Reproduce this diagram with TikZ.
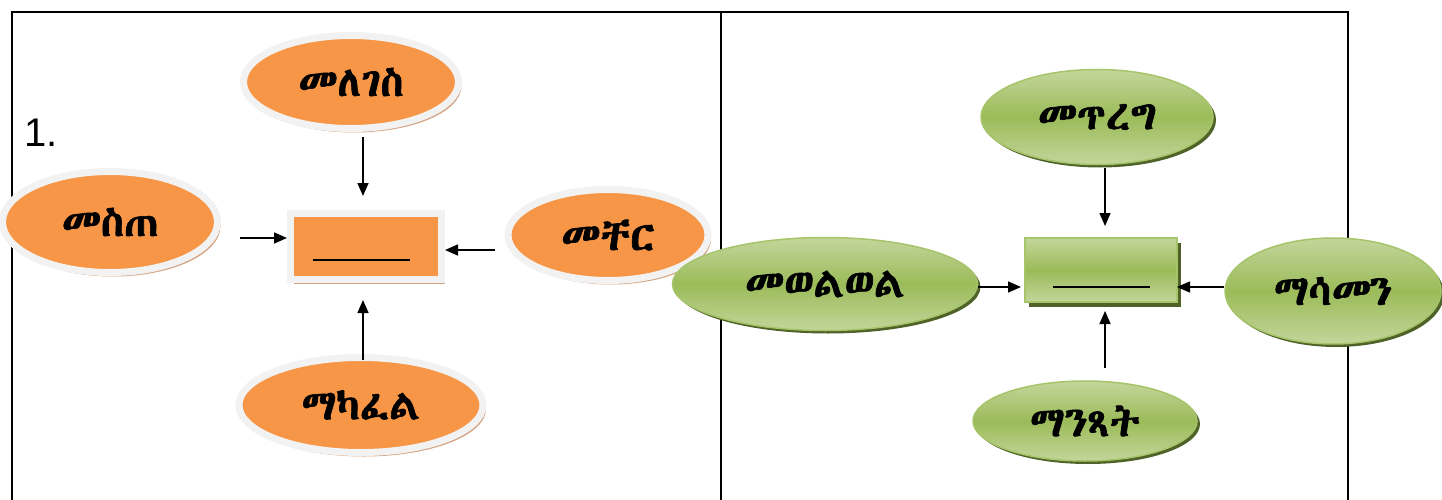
\documentclass[tikz,border=0pt]{standalone}
\usepackage{fontspec}
\setmainfont{Liberation Sans}
\IfFontExistsTF{Abyssinica SIL}{\newfontfamily\ethfont[Script=Ethiopic,FakeBold=1.5]{Abyssinica SIL}}{%
  \IfFontExistsTF{FreeSerif}{\newfontfamily\ethfont[Script=Ethiopic,FakeBold=1.5]{FreeSerif}}{%
   \newfontfamily\ethfont{DejaVu Sans}}}
\usetikzlibrary{shapes.geometric,arrows.meta,shadows}
\definecolor{orfill}{HTML}{F79646}
\definecolor{orrim}{HTML}{F2F2F2}
\definecolor{orshad}{HTML}{D4A482}
\definecolor{grlight}{HTML}{C3D69B}
\definecolor{grmid}{HTML}{9BBB59}
\definecolor{grline}{HTML}{A6C46A}
\definecolor{grshad}{HTML}{4F6228}
\tikzset{
  ethtext/.style={font=\ethfont\fontsize{42}{48}\selectfont, text=black},
  orell/.style={ellipse, inner sep=0pt, fill=orfill, draw=orrim, line width=7pt,
     drop shadow={shadow xshift=3pt, shadow yshift=-4pt, fill=orshad, opacity=1}, ethtext},
  grell/.style={ellipse, inner sep=0pt, top color=grlight, bottom color=grlight, middle color=grmid,
     draw=grline, line width=1.5pt,
     drop shadow={shadow xshift=3pt, shadow yshift=-3pt, fill=grshad, opacity=1}, ethtext},
  orbox/.style={rectangle, inner sep=0pt, fill=orfill, draw=orrim, line width=7pt,
     drop shadow={shadow xshift=3pt, shadow yshift=-5pt, fill=orshad, opacity=1}},
  grbox/.style={rectangle, inner sep=0pt, top color=grlight, bottom color=grlight, middle color=grmid,
     draw=grline, line width=1.5pt,
     drop shadow={shadow xshift=4pt, shadow yshift=-5pt, fill=grshad, opacity=1}},
  arr/.style={-{Triangle[length=13pt,width=11pt]}, line width=1.6pt, black},
  frame/.style={line width=2pt, black},
  blank/.style={line width=2.4pt, black}
}
\begin{document}
\begin{tikzpicture}[x=1pt,y=-1pt]
\useasboundingbox (0,0) rectangle (1442,500);
% frame
\draw[frame] (12,500) -- (12,12) -- (1348,12) -- (1348,500);
\draw[frame] (721,12) -- (721,500);
\node[font=\fontsize{40}{46}\selectfont] (num) at (41,133) {1.};
% left panel
\node[orell, minimum width=215pt, minimum height=93pt] (lg) at (351,82) {መለገስ};
\node[orell, minimum width=215pt, minimum height=101pt] (st) at (110,222) {መስጠ};
\node[orell, minimum width=200pt, minimum height=91pt] (cr) at (608,235) {መቸር};
\node[orell, minimum width=244pt, minimum height=95pt] (kf) at (361,405) {ማካፈል};
\node[orbox, minimum width=151pt, minimum height=66pt] (lb) at (366,246) {};
\draw[blank] (313,260) -- (410,260);
\coordinate (lgs) at (363,137);
\coordinate (sts) at (240,238);
\coordinate (crs) at (495,250);
\coordinate (kfs) at (363,360);
\draw[arr] (lgs) -- (lgs |- 0,196);
\draw[arr] (sts) -- (sts -| lb.west);
\draw[arr] (crs) -- (crs -| lb.east);
\draw[arr] (kfs) -- (kfs |- 0,300);
% right panel
\node[grell, minimum width=232pt, minimum height=95pt] (tr) at (1097,117) {መጥረግ};
\node[grell, minimum width=305pt, minimum height=93pt] (wl) at (825,284) {መወልወል};
\node[grell, minimum width=216pt, minimum height=106pt] (sm) at (1333,291) {ማሳመን};
\node[grell, minimum width=224pt, minimum height=80pt] (nt) at (1085,421) {ማንጻት};
\node[grbox, minimum width=152pt, minimum height=64pt] (rb) at (1101,270) {};
\draw[line width=1.4pt, black] (1053,287) -- (1150,287);
\coordinate (trs) at (1105,168);
\coordinate (ntst) at (1105,368);
\draw[arr] (trs) -- (trs |- 0,226);
\draw[arr] (wl.east |- 0,287) -- (1021,287);
\draw[arr] (sm.west |- 0,287) -- (1177,287);
\draw[arr] (ntst) -- (ntst |- 0,311);
\end{tikzpicture}
\end{document}
